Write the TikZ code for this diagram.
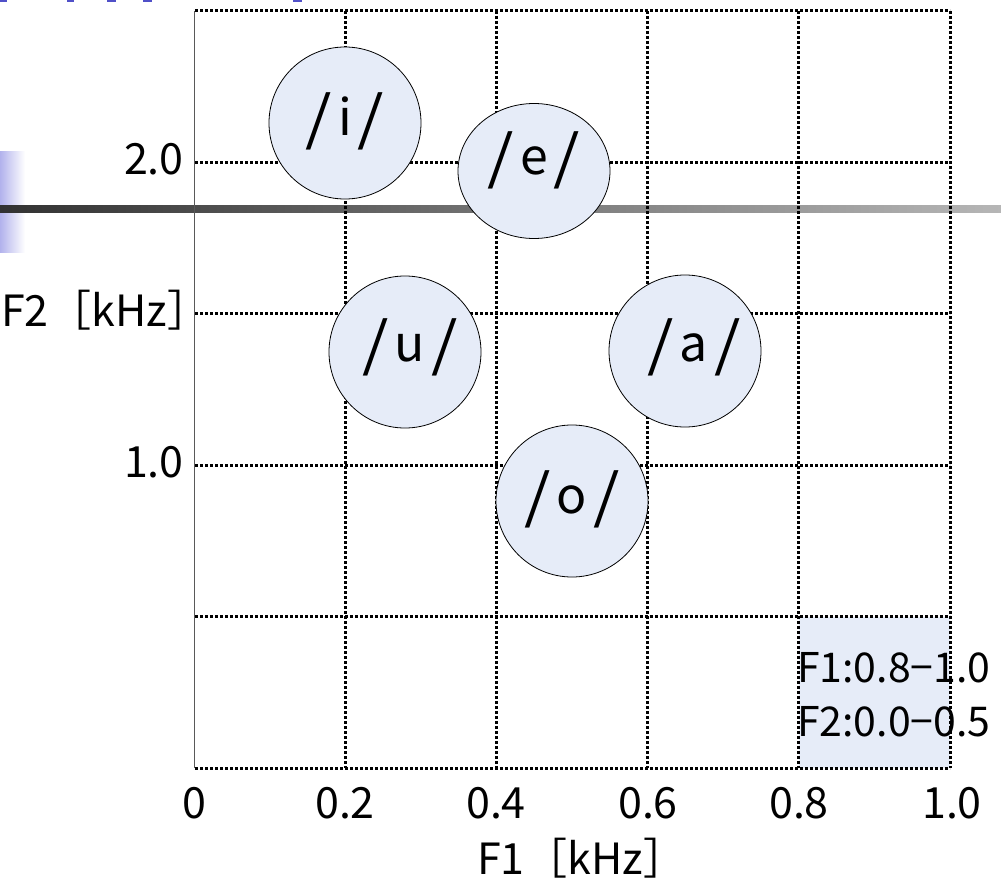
\documentclass[tikz,border=0pt]{standalone}
\usepackage{fontspec}
\setmainfont{Noto Sans CJK JP}
\usepackage{graphicx}
\usetikzlibrary{shapes.geometric}
\definecolor{cfill}{RGB}{230,236,248}
\definecolor{tblue}{RGB}{80,80,200}
\definecolor{bardark}{RGB}{50,50,50}
\definecolor{barlight}{RGB}{182,182,182}
\definecolor{lav}{RGB}{178,178,236}
\newcommand\vslash{\raisebox{-0.08em}{\scalebox{1.35}[1.18]{/}}}
\newcommand\vowelstr[1]{\vslash\hspace{0.12em}#1\hspace{0.12em}\vslash}
\tikzset{
  gridln/.style={line width=3pt, dash pattern=on 3pt off 2pt, black},
  vowel/.style={circle, draw=black, line width=0.8pt, fill=cfill, minimum size=152pt, inner sep=0pt},
  vowelell/.style={ellipse, draw=black, line width=0.8pt, fill=cfill, minimum width=152pt, minimum height=135pt, inner sep=0pt},
  vtext/.style={font=\fontsize{50}{50}\selectfont, inner sep=0pt},
  ticklab/.style={font=\fontsize{43}{43}\selectfont, inner sep=0pt},
  boxlab/.style={font=\fontsize{41}{41}\selectfont, inner sep=0pt, anchor=west},
}
\begin{document}
\begin{tikzpicture}[x=1pt,y=-1pt]
\useasboundingbox (0,0) rectangle (1001,883);
% cut-off title marks
\fill[tblue] (0,0) rectangle (7,2.5);
\fill[tblue] (67,0) rectangle (74,2.5);
\fill[tblue] (107,0) rectangle (116,2.5);
\fill[tblue] (143,0) rectangle (152,2.5);
\fill[tblue] (293,0) rectangle (302,2.5);
% left lavender gradient tab
\shade[left color=lav, right color=white] (0,151) rectangle (25,252);
% gradient bar
\shade[left color=bardark, right color=barlight] (0,205) rectangle (1001,212);
% shaded cell
\fill[cfill] (798.8,616.6) rectangle (950,768);
\node[boxlab] (r1) at (797,668) {F1:0.8−1.0};
\node[boxlab] (r2) at (797,722) {F2:0.0−0.5};
% grid
\foreach \gx in {345.2,496.4,647.6,798.8,950}
  \draw[gridln] (\gx,11) -- (\gx,768);
\foreach \gy in {11,162.4,313.8,465.2,616.6,768}
  \draw[gridln] (195,\gy) -- (950,\gy);
\draw[line width=1pt, black!65] (194,11) -- (194,768);
% vowels
\node[vowel] (ci) at (345,123) {};
\node[vowelell] (ce) at (534,171) {};
\node[vowel] (cu) at (405,352) {};
\node[vowel] (ca) at (685,351) {};
\node[vowel] (co) at (572,501) {};
\node[vtext] (ti) at (345,121) {\vowelstr{i}};
\node[vtext] (te) at (534,160) {\vowelstr{e}};
\node[vtext] (tu) at (410,347) {\vowelstr{u}};
\node[vtext] (ta) at (694,347) {\vowelstr{a}};
\node[vtext] (to) at (572,499) {\vowelstr{o}};
% x tick labels
\node[ticklab] (x0) at (194,803) {0};
\node[ticklab] (x1) at (345,803) {0.2};
\node[ticklab] (x2) at (496,803) {0.4};
\node[ticklab] (x3) at (648,803) {0.6};
\node[ticklab] (x4) at (799,803) {0.8};
\node[ticklab] (x5) at (952,803) {1.0};
\node[ticklab, anchor=west] (xl) at (477,858) {F1［kHz］};
% y tick labels
\node[ticklab, anchor=east] (y2) at (184,159) {2.0};
\node[ticklab, anchor=east] (y1) at (184,462) {1.0};
\node[ticklab, anchor=west] (yl) at (1,310) {F2［kHz］};
\end{tikzpicture}
\end{document}
